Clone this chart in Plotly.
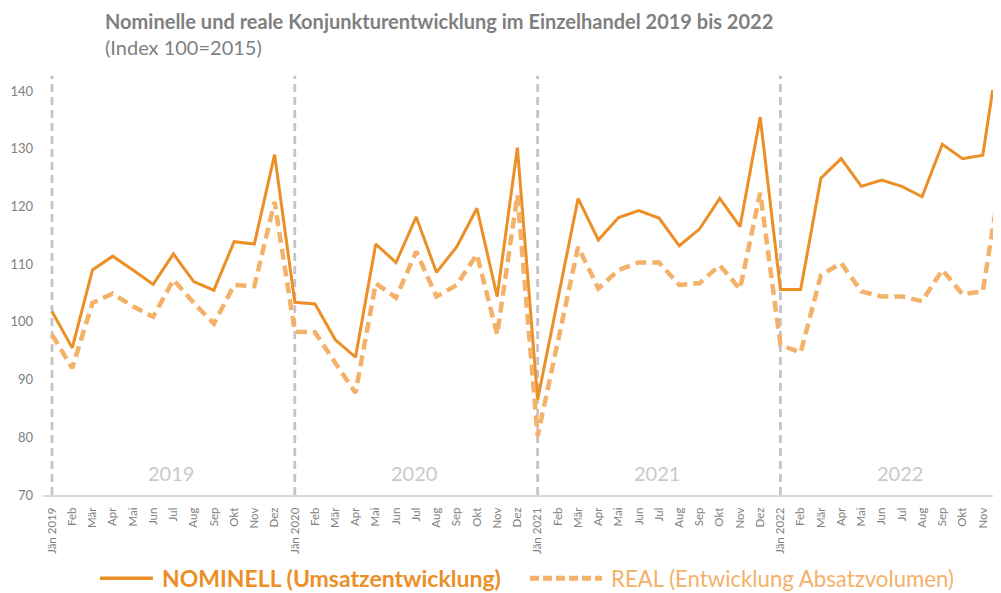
import plotly.graph_objects as go

months = ["Jän", "Feb", "Mär", "Apr", "Mai", "Jun", "Jul", "Aug", "Sep", "Okt", "Nov", "Dez"]
years = [2019, 2020, 2021, 2022]
tick_labels = [(f"{m} {y}" if m == "Jän" else m) for y in years for m in months]

nominell = [
    101.8, 95.5, 109.0, 111.4, 109.0, 106.5, 111.8, 107.0, 105.5, 113.9, 113.5, 129.0,
    103.4, 103.1, 96.9, 93.9, 113.5, 110.3, 118.2, 108.6, 113.0, 119.7, 104.4, 130.2,
    86.5, 104.0, 121.4, 114.2, 118.1, 119.3, 118.0, 113.2, 116.1, 121.4, 116.5, 135.5,
    105.6, 105.6, 124.9, 128.3, 123.5, 124.6, 123.5, 121.7, 130.8, 128.3, 128.9, 152.0,
]
real = [
    97.8, 92.0, 103.3, 104.9, 102.7, 100.9, 107.3, 103.3, 99.7, 106.4, 106.2, 120.8,
    98.3, 98.2, 92.9, 87.7, 106.7, 104.2, 112.2, 104.4, 106.4, 111.7, 97.8, 122.0,
    80.2, 97.0, 113.0, 105.8, 109.0, 110.3, 110.3, 106.4, 106.7, 109.8, 105.7, 122.4,
    96.0, 94.7, 108.1, 110.2, 105.3, 104.4, 104.4, 103.6, 109.0, 104.8, 105.3, 127.4,
]
y_ticks = [70, 80, 90, 100, 110, 120, 130, 140]

NOM_NAME = "NOMINELL (Umsatzentwicklung)"
REAL_NAME = "REAL (Entwicklung Absatzvolumen)"
NOM_COLOR = "#EB8F26"
REAL_COLOR = "#F3B16A"
GRAY_TXT = "#7F7F7F"
FONT = "Lato"

x = list(range(len(tick_labels)))

fig = go.Figure()
fig.add_trace(go.Scatter(
    x=x, y=nominell, mode="lines", name=NOM_NAME,
    line=dict(color=NOM_COLOR, width=3), showlegend=False,
))
fig.add_trace(go.Scatter(
    x=x, y=real, mode="lines", name=REAL_NAME,
    line=dict(color=REAL_COLOR, width=4.5, dash="11px,6px"), showlegend=False,
))

# year separators and year labels
for i, yr in enumerate(years):
    xs = x[i * 12]
    fig.add_shape(type="line", xref="x", yref="paper", x0=xs, x1=xs, y0=0, y1=1.035,
                  line=dict(color="#C4C4C4", width=2.8, dash="8px,5px"), layer="below")
    fig.add_annotation(x=xs + 5.9, y=73.9, xref="x", yref="y", text=str(yr), showarrow=False,
                       font=dict(family=FONT, size=20, color="#C9C9C9"))

# title
fig.add_annotation(xref="paper", yref="paper", x=0.0626, y=1.171, xanchor="left", yanchor="middle",
                   text="<b>Nominelle und reale Konjunkturentwicklung im Einzelhandel 2019 bis 2022</b>",
                   showarrow=False, font=dict(family=FONT, size=20, color=GRAY_TXT))
fig.add_annotation(xref="paper", yref="paper", x=0.0626, y=1.107, xanchor="left", yanchor="middle",
                   text="(Index 100=2015)", showarrow=False,
                   font=dict(family=FONT, size=20, color=GRAY_TXT))

# custom legend
LEG_Y = -0.2057
fig.add_shape(type="line", xref="paper", yref="paper", x0=0.0595, x1=0.1148, y0=LEG_Y, y1=LEG_Y,
              line=dict(color=NOM_COLOR, width=3.5))
fig.add_annotation(xref="paper", yref="paper", x=0.1221, y=LEG_Y, xanchor="left", yanchor="middle",
                   text=f"<b>{NOM_NAME}</b>", showarrow=False,
                   font=dict(family=FONT, size=23, color=NOM_COLOR))
fig.add_shape(type="line", xref="paper", yref="paper", x0=0.5084, x1=0.5835, y0=LEG_Y, y1=LEG_Y,
              line=dict(color=REAL_COLOR, width=5, dash="9px,4px"))
fig.add_annotation(xref="paper", yref="paper", x=0.5908, y=LEG_Y, xanchor="left", yanchor="middle",
                   text=REAL_NAME, showarrow=False,
                   font=dict(family=FONT, size=22.2, color=REAL_COLOR))

# the page body adds an 8px offset; margins compensate so the plot lands where the reference has it
fig.update_layout(
    width=1001, height=593,
    margin=dict(l=35, r=8, t=81.5, b=105.5),
    paper_bgcolor="white", plot_bgcolor="white",
    font=dict(family=FONT, color=GRAY_TXT),
    showlegend=False,
    xaxis=dict(
        range=[-0.445, 46.9], tickmode="array", tickvals=x, ticktext=tick_labels,
        tickangle=-90, tickfont=dict(family=FONT, size=11.5, color=GRAY_TXT),
        showgrid=False, zeroline=False, showline=True, linecolor="#D9D9D9", linewidth=2,
        ticks="", automargin=False, ticklabelstandoff=6,
    ),
    yaxis=dict(
        range=[70, 140.2], tickvals=y_ticks, showgrid=False, zeroline=False, showline=False,
        tickfont=dict(family=FONT, size=13, color=GRAY_TXT), ticks="", automargin=False,
        ticklabelstandoff=9,
    ),
)

fig.write_html("out.html")
